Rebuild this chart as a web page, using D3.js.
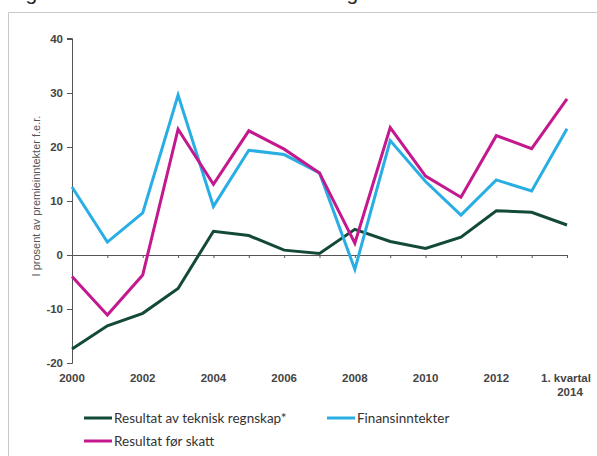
<!DOCTYPE html>
<html><head><meta charset="utf-8">
<script src="https://cdn.jsdelivr.net/npm/d3@7"></script>
<style>body{margin:0;background:#fff;}svg{display:block;}</style>
</head><body>
<script>
const years = [2000,2001,2002,2003,2004,2005,2006,2007,2008,2009,2010,2011,2012,2013,2014];
const tickLabels = ["2000","2002","2004","2006","2008","2010","2012","1. kvartal\n2014"];
const tickYears = [2000,2002,2004,2006,2008,2010,2012,2014];
const yTicks = [-20,-10,0,10,20,30,40];
const teknisk = [-17.4,-13.1,-10.8,-6.2,4.4,3.6,0.9,0.3,4.75,2.5,1.2,3.3,8.2,7.9,5.55];
const finans = [12.6,2.4,7.8,29.6,9.0,19.4,18.6,15.2,-2.65,21.2,13.6,7.4,13.9,11.85,23.4];
const forSkatt = [-4.0,-11.1,-3.7,23.3,13.1,23.0,19.6,15.2,2.2,23.6,14.6,10.7,22.1,19.7,28.9];
const seriesNames = ["Resultat av teknisk regnskap*","Finansinntekter","Resultat før skatt"];
const colors = ["#134a37","#29aee3","#c3188e"];

const W=597,H=456;
const svg=d3.select("body").append("svg").attr("width",W).attr("height",H);
svg.append("text").attr("x",8).attr("y",-0.5).attr("font-family","Liberation Sans, Arial").attr("font-size",21).attr("fill","#222").text("Figur 1. Resultater for skadeforsikring");
svg.append("path").attr("d","M8.5,"+(H+2)+"V12.5H"+(W+2)).attr("fill","none").attr("stroke","#c8c8c8").attr("stroke-width",1);

const x=d3.scaleLinear().domain([2000,2014]).range([72,567]);
const y=d3.scaleLinear().domain([-20,40]).range([363,39]);

// y axis
const ya=svg.append("g").attr("transform","translate(72,0)")
 .call(d3.axisLeft(y).tickValues(yTicks).tickSize(5).tickPadding(4).tickFormat(d=>String(d)));
ya.select(".domain").attr("stroke","#555").attr("d","M-5,363.5H0.5V38.5H-5");
ya.selectAll(".tick line").attr("stroke","#555");
ya.selectAll(".tick text").attr("font-family","Liberation Sans, Arial").attr("font-size",11.5).attr("font-weight","bold").attr("fill","#444");

// zero line with ticks
const xa=svg.append("g").attr("transform","translate(0,"+y(0)+")")
 .call(d3.axisBottom(x).tickValues(years).tickSize(3).tickFormat(""));
xa.select(".domain").attr("stroke","#555").attr("d","M72,0.5H567");
xa.selectAll(".tick line").attr("stroke","#555");

// x labels
const lab=svg.append("g").attr("font-family","Liberation Sans, Arial").attr("font-size",11.5).attr("font-weight","bold").attr("fill","#444").attr("text-anchor","middle");
tickYears.forEach((yr,i)=>{
  const lines=tickLabels[i].split("\n");
  const t=lab.append("text").attr("x",x(yr)).attr("y",382);
  lines.forEach((l,j)=>t.append("tspan").attr("x",x(yr)+(lines.length>1?(j==0?-1:3):0)).attr("dy",j==0?0:13.5).text(l));
});

// y label
svg.append("text").attr("transform","translate(40,196) rotate(-90)").attr("text-anchor","middle")
 .attr("font-family","Liberation Sans, Arial").attr("font-size",11).attr("fill","#555").text("I prosent av premieinntekter f.e.r.");

const line=d3.line().x((d,i)=>x(years[i])).y(d=>y(d));
[teknisk,finans,forSkatt].forEach((s,k)=>{
  svg.append("path").datum(s).attr("d",line).attr("fill","none").attr("stroke",colors[k]).attr("stroke-width",3).attr("stroke-linejoin","miter");
});

// legend
const leg=[{x:84,y:418},{x:327,y:418},{x:84,y:441}];
leg.forEach((p,k)=>{
  svg.append("line").attr("x1",p.x).attr("x2",p.x+28).attr("y1",p.y).attr("y2",p.y).attr("stroke",colors[k]).attr("stroke-width",3);
  svg.append("text").attr("x",p.x+30).attr("y",p.y+4.5).attr("font-family","Lato, Open Sans").attr("font-size",13.5).attr("fill","#333").text(seriesNames[k]);
});
</script>
</body></html>
